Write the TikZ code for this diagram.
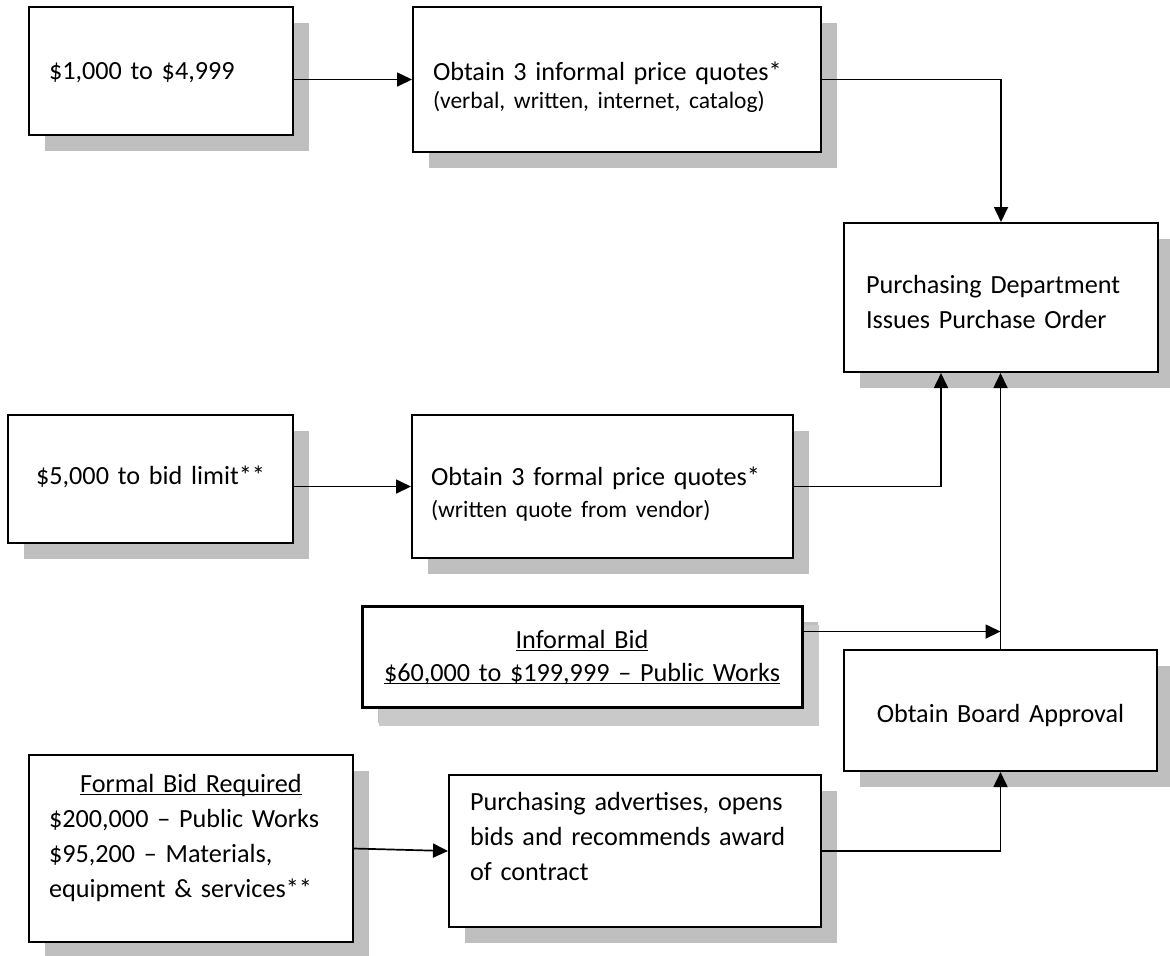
\documentclass[tikz,border=0pt]{standalone}
\usepackage{fontspec}
\setmainfont{Carlito}
\usetikzlibrary{arrows.meta,shadows}
\newcommand{\uline}[1]{\underline{\smash{#1}}}

\begin{document}
\begin{tikzpicture}[x=0.5pt,y=-0.5pt,
    textdown/.style={text height=#1,text depth=0pt},
    textup/.style={text height=0pt,text depth=#1},
    fs/.style={font=\fontsize{13.1pt}{#1}\selectfont},
    arr/.style={line width=0.85pt,-{Triangle[length=7.5pt,width=7pt]}}]
\useasboundingbox (0,0) rectangle (1170,955);
\begin{scope}[every node/.style={rectangle,draw,line width=1pt,fill=white,inner sep=0pt,
              align=left,fs=17.5pt,
              drop shadow={shadow xshift=8pt,shadow yshift=-8pt,fill=black!25,opacity=1}}]
    \node[minimum width=132pt,minimum height=64pt,text width=112pt,textdown=8pt] (lowq) at (161,71)
        {\$1,000 to \$4,999};
    \node[minimum width=204pt,minimum height=72.5pt,text width=184pt,textdown=0.5pt,fs=14pt] (infq) at (617,79.5)
        {Obtain 3 informal price quotes*\\ {\fontsize{11.75pt}{14pt}\selectfont (verbal, written, internet, catalog)}};
    \node[minimum width=157pt,minimum height=74.5pt,text width=135pt,textup=4.5pt] (po) at (1001,297.5)
        {Purchasing Department\\ Issues Purchase Order};
    \node[minimum width=142.5pt,minimum height=64pt,text width=130pt,align=center,textdown=5pt] (midq) at (150.5,479)
        {\$5,000 to bid limit**};
    \node[minimum width=190.5pt,minimum height=71.5pt,text width=171.5pt,textup=1.5pt,fs=16pt] (frmq) at (602.5,486.5)
        {Obtain 3 formal price quotes*\\ {\fontsize{11.75pt}{16pt}\selectfont (written quote from vendor)}};
    \node[minimum width=220pt,minimum height=50.5pt,text width=210pt,align=center,textup=8.5pt,fs=16.5pt,
          line width=1.5pt,drop shadow={shadow xshift=8.5pt,shadow yshift=-9.5pt,fill=black!21,opacity=1}] (infbid) at (582,656.5)
        {\uline{Informal Bid}\\ \uline{\$60,000 to \$199,999 – Public Works}};
    \node[minimum width=156.5pt,minimum height=60.5pt,text width=145pt,align=center,textdown=11.5pt] (board) at (1000.5,710.5)
        {Obtain Board Approval};
    \node[minimum width=162pt,minimum height=93.5pt,text width=142pt,textup=56.5pt] (frmbid) at (191,848.5)
        {\makebox[\linewidth]{\uline{Formal Bid Required}}\\ \$200,000 – Public Works\\ \$95,200 – Materials,\\ equipment \& services**};
    \node[minimum width=186pt,minimum height=76pt,text width=165pt,textup=41pt] (advert) at (635,851)
        {Purchasing advertises, opens\\ bids and recommends award\\ of contract};
\end{scope}
\begin{scope}[every path/.append style={arr}]
    \draw (lowq.east |- infq.west) -- (infq.west);
    \draw (infq.east) -| (po.north);
    \draw (midq.east |- frmq.west) -- (frmq.west);
    \draw (frmq.east) -| ([xshift=-30pt]po.south);
    \draw (board.north) -- (board.north |- po.south);
    \draw ([yshift=12.5pt]infbid.east) -- ([yshift=12.5pt]infbid.east -| board.north);
    \draw (frmbid.east) -- (advert.west);
    \draw (advert.east) -| (board.south);
\end{scope}
\end{tikzpicture}
\end{document}
